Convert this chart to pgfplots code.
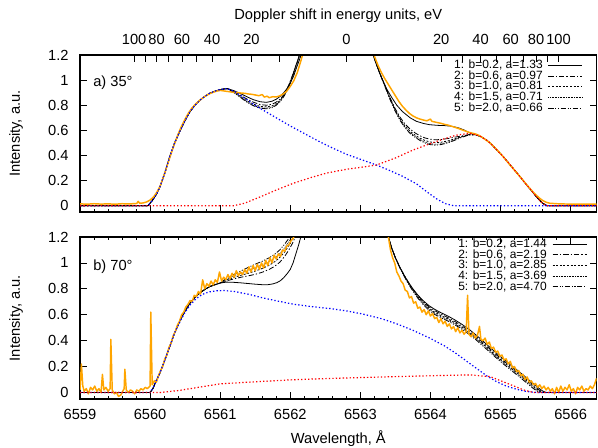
\documentclass[border=0pt]{standalone}
\usepackage{pgfplots}
\pgfplotsset{compat=1.18}
\usepackage{fontspec}
\setmainfont{Liberation Sans}
\definecolor{expo}{RGB}{255,165,0}
\definecolor{mblue}{RGB}{0,0,255}
\definecolor{mred}{RGB}{255,0,0}
\pgfplotsset{
  panel/.style={
    scale only axis, width=387.4pt,
    xmin=6559, xmax=6566.37, ymin=-0.05, ymax=1.2,
    xtick={6559,6560,6561,6562,6563,6564,6565,6566}, minor x tick num=4,
    ytick={0,0.2,0.4,0.6,0.8,1,1.2},
    tick align=inside,
    major tick length=5pt, minor tick length=2.5pt,
    axis line style={line width=1.3pt},
    every tick/.style={black, line width=0.6pt},
    /pgf/number format/1000 sep={},
    /pgf/number format/assume math mode=true,
    scaled x ticks=false,
    tick label style={font=\fontsize{11}{13}\selectfont},
    yticklabel style={xshift=-5pt},
    xticklabel style={yshift=-4.5pt},
    legend style={draw=none, fill=none, font=\fontsize{9}{10}\selectfont,
      inner sep=0pt, column sep=4pt,
      nodes={inner sep=0pt, text height=6.5pt, text depth=1.5pt}},
    legend cell align=right,
    legend plot pos=right,
    legend image code/.code={\draw[##1] (0pt,0pt) -- (25.5pt,0pt);},
  },
  f1/.style={black, line width=0.6pt},
  f2/.style={black, line width=0.6pt, dash pattern=on 4pt off 1.5pt on 1pt off 1.5pt},
  f3/.style={black, line width=0.6pt, dash pattern=on 1.5pt off 1.2pt},
  f4/.style={black, line width=0.5pt, dash pattern=on 0.5pt off 0.7pt},
  f5/.style={black, line width=0.6pt, dash pattern=on 4pt off 1.2pt on 0.8pt off 1.2pt on 0.8pt off 1.2pt},
  ex/.style={expo, line width=1.1pt, line join=round},
  cb/.style={mblue, line width=0.9pt, dash pattern=on 1pt off 1.6pt},
  cr/.style={mred, line width=0.9pt, dash pattern=on 1pt off 1.6pt},
}
\begin{document}
\begin{tikzpicture}
\useasboundingbox (0,0) rectangle (448.5pt,335.25pt);
% ---------------- top panel ----------------
\begin{axis}[panel, at={(60pt,176.25pt)}, height=117.75pt,
  xtick pos=lower, xticklabels={},
  legend style={at={(0.974,0.97)}, anchor=north east}]
\addplot[f1] coordinates {(6559,0) (6559.9,0) (6559.97,0) (6560.03,0.04) (6560.09,0.09) (6560.14,0.15) (6560.21,0.26) (6560.28,0.39) (6560.35,0.50) (6560.43,0.60) (6560.5,0.68) (6560.57,0.75) (6560.64,0.80) (6560.71,0.84) (6560.78,0.87) (6560.85,0.895) (6560.93,0.913) (6561.0,0.925) (6561.1,0.933)
 (6561.2,0.915) (6561.3,0.89) (6561.38,0.868) (6561.47,0.845) (6561.57,0.828) (6561.66,0.823) (6561.74,0.832) (6561.8,0.848) (6561.85,0.868) (6561.9,0.895) (6561.95,0.93) (6562.0,0.975) (6562.05,1.035) (6562.09,1.1) (6562.13,1.16) (6562.17,1.225) (6562.22,1.32) (6562.3,1.5) (6562.45,2.0) (6562.8,3.0) (6563.0,2.2) (6563.1,1.5)
 (6563.17,1.22) (6563.22,1.14) (6563.28,1.05) (6563.33,0.985) (6563.38,0.925) (6563.45,0.86) (6563.52,0.8) (6563.6,0.75) (6563.71,0.7) (6563.8,0.672) (6563.9,0.655) (6563.99,0.645) (6564.1,0.64) (6564.2,0.638) (6564.3,0.633) (6564.4,0.62) (6564.48,0.603) (6564.56,0.58) (6564.65,0.565)
 (6564.72,0.55) (6564.8,0.523) (6564.86,0.495) (6564.92,0.46) (6564.98,0.425) (6565.04,0.39) (6565.1,0.35) (6565.16,0.31) (6565.22,0.27) (6565.28,0.23) (6565.33,0.195) (6565.38,0.16) (6565.43,0.128) (6565.47,0.1) (6565.51,0.073) (6565.55,0.048) (6565.58,0.03) (6565.61,0.017) (6565.64,0.006) (6565.67,0) (6566.37,0)};
\addlegendentry{1: b=0.2, a=1.33}
\addplot[f2] coordinates {(6559,0) (6559.9,0) (6559.97,0) (6560.03,0.04) (6560.09,0.09) (6560.14,0.15) (6560.21,0.26) (6560.28,0.39) (6560.35,0.50) (6560.43,0.60) (6560.5,0.68) (6560.57,0.75) (6560.64,0.80) (6560.71,0.84) (6560.78,0.87) (6560.85,0.895) (6560.93,0.913) (6561.0,0.925) (6561.1,0.933)
 (6561.2,0.91) (6561.3,0.875) (6561.38,0.85) (6561.47,0.825) (6561.57,0.805) (6561.66,0.80) (6561.74,0.808) (6561.8,0.825) (6561.86,0.85) (6561.92,0.895) (6561.97,0.95) (6562.02,1.02) (6562.07,1.1) (6562.12,1.18) (6562.16,1.25) (6562.22,1.36) (6562.3,1.55) (6562.45,2.1) (6562.8,3.1) (6563.0,2.2) (6563.1,1.5)
 (6563.17,1.22) (6563.22,1.14) (6563.28,1.05) (6563.35,0.96) (6563.42,0.865) (6563.49,0.78) (6563.56,0.71) (6563.63,0.655) (6563.71,0.61) (6563.78,0.58) (6563.85,0.557) (6563.92,0.54) (6563.99,0.53) (6564.07,0.525) (6564.15,0.527) (6564.25,0.535) (6564.35,0.546) (6564.45,0.556) (6564.55,0.566) (6564.65,0.565)
 (6564.72,0.55) (6564.8,0.523) (6564.86,0.495) (6564.92,0.46) (6564.98,0.425) (6565.04,0.39) (6565.1,0.35) (6565.16,0.31) (6565.22,0.27) (6565.28,0.23) (6565.33,0.195) (6565.38,0.16) (6565.43,0.128) (6565.47,0.1) (6565.51,0.073) (6565.55,0.048) (6565.58,0.03) (6565.61,0.017) (6565.64,0.006) (6565.67,0) (6566.37,0)};
\addlegendentry{2: b=0.6, a=0.97}
\addplot[f3] coordinates {(6559,0) (6559.9,0) (6559.97,0) (6560.03,0.04) (6560.09,0.09) (6560.14,0.15) (6560.21,0.26) (6560.28,0.39) (6560.35,0.50) (6560.43,0.60) (6560.5,0.68) (6560.57,0.75) (6560.64,0.80) (6560.71,0.84) (6560.78,0.87) (6560.85,0.895) (6560.93,0.913) (6561.0,0.925) (6561.1,0.933)
 (6561.2,0.905) (6561.3,0.865) (6561.38,0.835) (6561.47,0.81) (6561.57,0.79) (6561.66,0.787) (6561.74,0.795) (6561.8,0.813) (6561.86,0.84) (6561.92,0.89) (6561.97,0.945) (6562.02,1.015) (6562.07,1.1) (6562.12,1.18) (6562.16,1.25) (6562.22,1.36) (6562.3,1.55) (6562.45,2.1) (6562.8,3.1) (6563.0,2.2) (6563.1,1.5)
 (6563.17,1.22) (6563.22,1.14) (6563.28,1.05) (6563.35,0.955) (6563.42,0.858) (6563.49,0.772) (6563.56,0.698) (6563.63,0.64) (6563.71,0.593) (6563.78,0.562) (6563.85,0.538) (6563.92,0.52) (6563.99,0.508) (6564.07,0.502) (6564.15,0.505) (6564.25,0.516) (6564.35,0.533) (6564.45,0.551) (6564.55,0.565) (6564.65,0.565)
 (6564.72,0.55) (6564.8,0.523) (6564.86,0.495) (6564.92,0.46) (6564.98,0.425) (6565.04,0.39) (6565.1,0.35) (6565.16,0.31) (6565.22,0.27) (6565.28,0.23) (6565.33,0.195) (6565.38,0.16) (6565.43,0.128) (6565.47,0.1) (6565.51,0.073) (6565.55,0.048) (6565.58,0.03) (6565.61,0.017) (6565.64,0.006) (6565.67,0) (6566.37,0)};
\addlegendentry{3: b=1.0, a=0.81}
\addplot[f4] coordinates {(6559,0) (6559.9,0) (6559.97,0) (6560.03,0.04) (6560.09,0.09) (6560.14,0.15) (6560.21,0.26) (6560.28,0.39) (6560.35,0.50) (6560.43,0.60) (6560.5,0.68) (6560.57,0.75) (6560.64,0.80) (6560.71,0.84) (6560.78,0.87) (6560.85,0.895) (6560.93,0.913) (6561.0,0.925) (6561.1,0.933)
 (6561.2,0.9) (6561.3,0.86) (6561.38,0.828) (6561.47,0.8) (6561.57,0.78) (6561.66,0.777) (6561.74,0.785) (6561.8,0.803) (6561.86,0.835) (6561.92,0.885) (6561.97,0.94) (6562.02,1.01) (6562.07,1.095) (6562.12,1.18) (6562.16,1.25) (6562.22,1.36) (6562.3,1.55) (6562.45,2.1) (6562.8,3.1) (6563.0,2.2) (6563.1,1.5)
 (6563.17,1.22) (6563.22,1.14) (6563.28,1.05) (6563.35,0.955) (6563.42,0.855) (6563.49,0.767) (6563.56,0.692) (6563.63,0.632) (6563.71,0.583) (6563.78,0.552) (6563.85,0.527) (6563.92,0.507) (6563.99,0.494) (6564.07,0.489) (6564.15,0.493) (6564.25,0.506) (6564.35,0.527) (6564.45,0.549) (6564.55,0.565) (6564.65,0.565)
 (6564.72,0.55) (6564.8,0.523) (6564.86,0.495) (6564.92,0.46) (6564.98,0.425) (6565.04,0.39) (6565.1,0.35) (6565.16,0.31) (6565.22,0.27) (6565.28,0.23) (6565.33,0.195) (6565.38,0.16) (6565.43,0.128) (6565.47,0.1) (6565.51,0.073) (6565.55,0.048) (6565.58,0.03) (6565.61,0.017) (6565.64,0.006) (6565.67,0) (6566.37,0)};
\addlegendentry{4: b=1.5, a=0.71}
\addplot[f5] coordinates {(6559,0) (6559.9,0) (6559.97,0) (6560.03,0.04) (6560.09,0.09) (6560.14,0.15) (6560.21,0.26) (6560.28,0.39) (6560.35,0.50) (6560.43,0.60) (6560.5,0.68) (6560.57,0.75) (6560.64,0.80) (6560.71,0.84) (6560.78,0.87) (6560.85,0.895) (6560.93,0.913) (6561.0,0.925) (6561.1,0.933)
 (6561.2,0.9) (6561.3,0.858) (6561.38,0.825) (6561.47,0.797) (6561.57,0.776) (6561.66,0.772) (6561.74,0.78) (6561.8,0.8) (6561.86,0.83) (6561.92,0.88) (6561.97,0.935) (6562.02,1.005) (6562.07,1.09) (6562.12,1.175) (6562.16,1.25) (6562.22,1.36) (6562.3,1.55) (6562.45,2.1) (6562.8,3.1) (6563.0,2.2) (6563.1,1.5)
 (6563.17,1.22) (6563.22,1.14) (6563.28,1.05) (6563.35,0.95) (6563.42,0.85) (6563.49,0.76) (6563.56,0.685) (6563.63,0.625) (6563.71,0.575) (6563.78,0.545) (6563.85,0.52) (6563.92,0.5) (6563.99,0.487) (6564.07,0.482) (6564.15,0.487) (6564.25,0.5) (6564.35,0.522) (6564.45,0.545) (6564.55,0.563) (6564.65,0.565)
 (6564.72,0.55) (6564.8,0.523) (6564.86,0.495) (6564.92,0.46) (6564.98,0.425) (6565.04,0.39) (6565.1,0.35) (6565.16,0.31) (6565.22,0.27) (6565.28,0.23) (6565.33,0.195) (6565.38,0.16) (6565.43,0.128) (6565.47,0.1) (6565.51,0.073) (6565.55,0.048) (6565.58,0.03) (6565.61,0.017) (6565.64,0.006) (6565.67,0) (6566.37,0)};
\addlegendentry{5: b=2.0, a=0.66}
\addplot[ex, forget plot] coordinates {(6559.00,0.015) (6559.10,0.012) (6559.20,0.016) (6559.30,0.013) (6559.40,0.015) (6559.50,0.012) (6559.60,0.016) (6559.70,0.014) (6559.78,0.017) (6559.81,0.018) (6559.83,0.035) (6559.85,0.02) (6559.90,0.022) (6559.95,0.03) (6560.00,0.045) (6560.05,0.07) (6560.10,0.11) (6560.15,0.165) (6560.20,0.245) (6560.25,0.33) (6560.30,0.415) (6560.35,0.495) (6560.40,0.57) (6560.45,0.635) (6560.50,0.69) (6560.55,0.74) (6560.60,0.78) (6560.65,0.81) (6560.70,0.835) (6560.75,0.858) (6560.80,0.877) (6560.85,0.892) (6560.90,0.903) (6560.95,0.912) (6561.00,0.918) (6561.05,0.914) (6561.10,0.91) (6561.15,0.906) (6561.20,0.902) (6561.25,0.90) (6561.30,0.897) (6561.35,0.895) (6561.40,0.89) (6561.45,0.887) (6561.50,0.882) (6561.55,0.876) (6561.60,0.885) (6561.63,0.865) (6561.67,0.872) (6561.70,0.86) (6561.75,0.868) (6561.80,0.866) (6561.85,0.875) (6561.90,0.89) (6561.95,0.912) (6562.00,0.95) (6562.05,0.995) (6562.10,1.06) (6562.15,1.15) (6562.20,1.25) (6562.30,1.5) (6562.50,2.2) (6562.80,3.0) (6563.00,2.3) (6563.10,1.6) (6563.18,1.22) (6563.25,1.12) (6563.30,1.06) (6563.35,1.01) (6563.40,0.965) (6563.45,0.92) (6563.50,0.875) (6563.55,0.83) (6563.60,0.792) (6563.65,0.762) (6563.70,0.735) (6563.75,0.715) (6563.80,0.7) (6563.85,0.69) (6563.90,0.682) (6563.95,0.676) (6564.00,0.69) (6564.02,0.672) (6564.05,0.668) (6564.10,0.662) (6564.15,0.656) (6564.20,0.648) (6564.25,0.642) (6564.30,0.633) (6564.35,0.624) (6564.40,0.615) (6564.45,0.604) (6564.50,0.594) (6564.55,0.584) (6564.60,0.577) (6564.65,0.57) (6564.70,0.558) (6564.75,0.54) (6564.80,0.52) (6564.85,0.5) (6564.90,0.472) (6564.95,0.444) (6565.00,0.414) (6565.05,0.382) (6565.10,0.348) (6565.15,0.315) (6565.20,0.282) (6565.25,0.25) (6565.30,0.217) (6565.35,0.183) (6565.40,0.15) (6565.45,0.118) (6565.50,0.09) (6565.55,0.063) (6565.60,0.042) (6565.65,0.028) (6565.70,0.02) (6565.80,0.016) (6565.90,0.014) (6566.00,0.013) (6566.10,0.012) (6566.20,0.013) (6566.30,0.012) (6566.37,0.012)};
\addplot[cb, forget plot] coordinates {(6559,0) (6559.97,0) (6560.03,0.04) (6560.09,0.09) (6560.14,0.15) (6560.21,0.26) (6560.28,0.39) (6560.35,0.50) (6560.43,0.60) (6560.5,0.68) (6560.57,0.75) (6560.64,0.80) (6560.71,0.84) (6560.78,0.87) (6560.85,0.895) (6560.93,0.913) (6561.0,0.925) (6561.1,0.933) (6561.2,0.91) (6561.3,0.875) (6561.43,0.825) (6561.57,0.775) (6561.8,0.70) (6562.0,0.635) (6562.2,0.575) (6562.4,0.515) (6562.6,0.46) (6562.8,0.41) (6563.0,0.37) (6563.23,0.324) (6563.4,0.285) (6563.6,0.235) (6563.8,0.175) (6563.95,0.11) (6564.1,0.05) (6564.22,0.015) (6564.33,0) (6566.37,0)};
\addplot[cr, forget plot] coordinates {(6559,0) (6561.19,0) (6561.35,0.02) (6561.57,0.07) (6561.8,0.125) (6562.05,0.18) (6562.3,0.225) (6562.52,0.26) (6562.8,0.29) (6563.0,0.305) (6563.23,0.324) (6563.5,0.38) (6563.75,0.443) (6564.0,0.495) (6564.18,0.53) (6564.37,0.562) (6564.56,0.576) (6564.65,0.565) (6564.72,0.55) (6564.8,0.523) (6564.86,0.495) (6564.92,0.46) (6564.98,0.425) (6565.04,0.39) (6565.1,0.35) (6565.16,0.31) (6565.22,0.27) (6565.28,0.23) (6565.33,0.195) (6565.38,0.16) (6565.43,0.128) (6565.47,0.1) (6565.51,0.073) (6565.55,0.048) (6565.58,0.03) (6565.61,0.017) (6565.64,0.006) (6565.67,0) (6566.37,0)};
\end{axis}
% ---------------- Doppler axis ----------------
\begin{axis}[scale only axis, width=387.4pt, height=117.75pt, at={(60pt,176.25pt)},
  xmin=6559, xmax=6566.37, ymin=0, ymax=1,
  axis x line*=top, axis y line=none,
  axis line style={line width=1.3pt},
  tick align=inside, major tick length=5pt,
  every tick/.style={black, line width=0.6pt},
  xtick={6559.772,6559.927,6560.092,6560.267,6560.455,6560.659,6560.885,6561.142,6561.446,6561.843,6562.8,6563.757,6564.154,6564.458,6564.715,6564.941,6565.145,6565.333,6565.508,6565.673,6565.828},
  xticklabels={100,,80,,60,,40,,20,,0,,20,,40,,60,,80,,100},
  xticklabel style={font=\fontsize{11}{13}\selectfont, yshift=4.5pt}]
\addplot[draw=none] coordinates {(6560,0.5)};
\end{axis}
% ---------------- bottom panel ----------------
\begin{axis}[panel, at={(60pt,36pt)}, height=121.5pt,
  legend style={at={(0.982,0.99)}, anchor=north east}]
\addplot[f1] coordinates {(6559,0) (6560.0,0) (6560.04,0.03) (6560.07,0.07) (6560.14,0.15) (6560.21,0.25) (6560.28,0.354) (6560.35,0.46) (6560.43,0.56) (6560.5,0.63) (6560.57,0.69) (6560.64,0.735) (6560.71,0.768) (6560.78,0.795) (6560.85,0.817) (6560.93,0.833) (6561.0,0.845)
 (6561.09,0.852) (6561.2,0.85) (6561.3,0.846) (6561.4,0.841) (6561.5,0.836) (6561.6,0.832) (6561.68,0.832) (6561.75,0.838) (6561.81,0.848) (6561.86,0.863) (6561.91,0.888) (6561.96,0.92) (6562.0,0.95) (6562.04,1.0) (6562.08,1.07) (6562.12,1.14) (6562.16,1.22) (6562.22,1.34) (6562.3,1.55) (6562.5,2.2) (6562.8,3.0) (6563.1,2.2) (6563.3,1.5)
 (6563.4,1.2) (6563.45,1.11) (6563.5,1.04) (6563.56,0.97) (6563.62,0.91) (6563.68,0.855) (6563.75,0.8) (6563.82,0.752) (6563.9,0.707) (6563.98,0.67) (6564.06,0.642) (6564.15,0.616) (6564.25,0.59) (6564.35,0.56) (6564.45,0.526) (6564.56,0.484) (6564.66,0.44) (6564.76,0.392) (6564.86,0.343) (6564.96,0.295) (6565.06,0.25) (6565.16,0.206) (6565.26,0.163) (6565.34,0.127) (6565.42,0.09) (6565.49,0.06) (6565.55,0.032) (6565.6,0.012) (6565.65,0) (6566.37,0)};
\addlegendentry{1: b=0.2, a=1.44}
\addplot[f2] coordinates {(6559,0) (6560.0,0) (6560.04,0.03) (6560.07,0.07) (6560.14,0.15) (6560.21,0.25) (6560.28,0.354) (6560.35,0.46) (6560.43,0.56) (6560.5,0.63) (6560.57,0.69) (6560.64,0.735) (6560.71,0.768) (6560.78,0.795) (6560.85,0.817) (6560.93,0.833) (6561.0,0.845)
 (6561.09,0.862) (6561.2,0.877) (6561.3,0.89) (6561.4,0.9) (6561.5,0.912) (6561.6,0.928) (6561.7,0.95) (6561.78,0.975) (6561.85,1.005) (6561.92,1.05) (6561.98,1.1) (6562.03,1.15) (6562.08,1.21) (6562.14,1.3) (6562.3,1.6) (6562.5,2.2) (6562.8,3.0) (6563.1,2.2) (6563.3,1.5)
 (6563.4,1.2) (6563.45,1.11) (6563.5,1.04) (6563.56,0.97) (6563.62,0.91) (6563.68,0.855) (6563.75,0.797) (6563.82,0.747) (6563.9,0.7) (6563.98,0.661) (6564.06,0.632) (6564.15,0.605) (6564.25,0.578) (6564.35,0.548) (6564.45,0.514) (6564.56,0.472) (6564.66,0.428) (6564.76,0.38) (6564.86,0.331) (6564.96,0.283) (6565.06,0.238) (6565.16,0.194) (6565.26,0.151) (6565.34,0.115) (6565.42,0.078) (6565.49,0.048) (6565.55,0.02) (6565.6,0.004) (6565.65,0) (6566.37,0)};
\addlegendentry{2: b=0.6, a=2.19}
\addplot[f3] coordinates {(6559,0) (6560.0,0) (6560.04,0.03) (6560.07,0.07) (6560.14,0.15) (6560.21,0.25) (6560.28,0.354) (6560.35,0.46) (6560.43,0.56) (6560.5,0.63) (6560.57,0.69) (6560.64,0.735) (6560.71,0.768) (6560.78,0.795) (6560.85,0.817) (6560.93,0.833) (6561.0,0.845)
 (6561.09,0.868) (6561.2,0.888) (6561.3,0.905) (6561.4,0.92) (6561.5,0.937) (6561.6,0.957) (6561.7,0.982) (6561.78,1.01) (6561.85,1.042) (6561.92,1.085) (6561.98,1.135) (6562.03,1.185) (6562.07,1.23) (6562.14,1.32) (6562.3,1.6) (6562.5,2.2) (6562.8,3.0) (6563.1,2.2) (6563.3,1.5)
 (6563.4,1.2) (6563.45,1.11) (6563.5,1.04) (6563.56,0.97) (6563.62,0.908) (6563.68,0.851) (6563.75,0.793) (6563.82,0.74) (6563.9,0.692) (6563.98,0.651) (6564.06,0.62) (6564.15,0.594) (6564.25,0.568) (6564.35,0.538) (6564.45,0.504) (6564.56,0.462) (6564.66,0.418) (6564.76,0.37) (6564.86,0.321) (6564.96,0.273) (6565.06,0.228) (6565.16,0.184) (6565.26,0.141) (6565.34,0.105) (6565.42,0.068) (6565.49,0.038) (6565.55,0.012) (6565.6,0) (6566.37,0)};
\addlegendentry{3: b=1.0, a=2.85}
\addplot[f4] coordinates {(6559,0) (6560.0,0) (6560.04,0.03) (6560.07,0.07) (6560.14,0.15) (6560.21,0.25) (6560.28,0.354) (6560.35,0.46) (6560.43,0.56) (6560.5,0.63) (6560.57,0.69) (6560.64,0.735) (6560.71,0.768) (6560.78,0.795) (6560.85,0.817) (6560.93,0.833) (6561.0,0.845)
 (6561.09,0.875) (6561.2,0.9) (6561.3,0.922) (6561.4,0.943) (6561.5,0.963) (6561.6,0.985) (6561.7,1.01) (6561.78,1.04) (6561.85,1.072) (6561.92,1.115) (6561.98,1.165) (6562.03,1.21) (6562.1,1.3) (6562.3,1.6) (6562.5,2.2) (6562.8,3.0) (6563.1,2.2) (6563.3,1.5)
 (6563.4,1.2) (6563.45,1.11) (6563.5,1.04) (6563.56,0.968) (6563.62,0.905) (6563.68,0.847) (6563.75,0.788) (6563.82,0.734) (6563.9,0.684) (6563.98,0.642) (6564.06,0.611) (6564.15,0.585) (6564.25,0.559) (6564.35,0.53) (6564.45,0.496) (6564.56,0.454) (6564.66,0.41) (6564.76,0.362) (6564.86,0.313) (6564.96,0.265) (6565.06,0.22) (6565.16,0.176) (6565.26,0.133) (6565.34,0.097) (6565.42,0.06) (6565.49,0.03) (6565.55,0.006) (6565.6,0) (6566.37,0)};
\addlegendentry{4: b=1.5, a=3.69}
\addplot[f5] coordinates {(6559,0) (6560.0,0) (6560.04,0.03) (6560.07,0.07) (6560.14,0.15) (6560.21,0.25) (6560.28,0.354) (6560.35,0.46) (6560.43,0.56) (6560.5,0.63) (6560.57,0.69) (6560.64,0.735) (6560.71,0.768) (6560.78,0.795) (6560.85,0.817) (6560.93,0.833) (6561.0,0.845)
 (6561.09,0.882) (6561.2,0.912) (6561.3,0.94) (6561.4,0.965) (6561.5,0.99) (6561.6,1.013) (6561.7,1.04) (6561.78,1.068) (6561.85,1.1) (6561.92,1.145) (6561.98,1.19) (6562.03,1.235) (6562.1,1.32) (6562.3,1.6) (6562.5,2.2) (6562.8,3.0) (6563.1,2.2) (6563.3,1.5)
 (6563.4,1.2) (6563.45,1.11) (6563.5,1.038) (6563.56,0.966) (6563.62,0.902) (6563.68,0.843) (6563.75,0.783) (6563.82,0.728) (6563.9,0.677) (6563.98,0.634) (6564.06,0.603) (6564.15,0.577) (6564.25,0.551) (6564.35,0.522) (6564.45,0.488) (6564.56,0.446) (6564.66,0.402) (6564.76,0.354) (6564.86,0.305) (6564.96,0.257) (6565.06,0.212) (6565.16,0.168) (6565.26,0.125) (6565.34,0.089) (6565.42,0.052) (6565.49,0.022) (6565.55,0.002) (6565.6,0) (6566.37,0)};
\addlegendentry{5: b=2.0, a=4.70}
\addplot[ex, forget plot] coordinates {(6559.00,0.02) (6559.02,0.22) (6559.04,0.05) (6559.06,0.01) (6559.09,0.03) (6559.12,-0.01) (6559.15,0.04) (6559.18,0.02) (6559.21,0.05) (6559.24,0.01) (6559.27,0.03) (6559.30,0.00) (6559.32,0.14) (6559.34,0.02) (6559.37,0.04) (6559.40,0.01) (6559.43,0.03) (6559.44,0.41) (6559.46,0.02) (6559.49,-0.01) (6559.52,0.00) (6559.55,-0.03) (6559.58,-0.02) (6559.61,0.01) (6559.63,0.03) (6559.64,0.18) (6559.66,0.02) (6559.69,0.00) (6559.72,0.02) (6559.75,0.01) (6559.78,-0.01) (6559.81,0.02) (6559.84,0.01) (6559.87,0.03) (6559.90,0.02) (6559.93,0.04) (6559.96,0.03) (6560.00,0.05) (6560.01,0.62) (6560.03,0.06) (6560.06,0.09) (6560.09,0.08) (6560.12,0.13) (6560.15,0.17) (6560.18,0.20) (6560.21,0.26) (6560.24,0.29) (6560.27,0.35) (6560.30,0.38) (6560.33,0.44) (6560.36,0.47) (6560.39,0.52) (6560.42,0.55) (6560.45,0.60) (6560.48,0.62) (6560.51,0.66) (6560.54,0.68) (6560.57,0.71) (6560.60,0.70) (6560.63,0.75) (6560.66,0.74) (6560.69,0.78) (6560.72,0.76) (6560.75,0.87) (6560.78,0.80) (6560.81,0.84) (6560.84,0.82) (6560.87,0.86) (6560.90,0.83) (6560.93,0.87) (6560.96,0.85) (6560.99,0.93) (6561.02,0.86) (6561.05,0.89) (6561.08,0.87) (6561.11,0.91) (6561.14,0.88) (6561.17,0.92) (6561.20,0.89) (6561.23,0.94) (6561.26,0.90) (6561.29,0.93) (6561.32,0.91) (6561.35,0.95) (6561.38,0.92) (6561.41,0.97) (6561.44,0.93) (6561.47,0.98) (6561.50,0.94) (6561.53,0.99) (6561.56,0.95) (6561.59,1.00) (6561.62,0.96) (6561.65,1.02) (6561.68,0.98) (6561.71,1.04) (6561.74,1.00) (6561.77,1.06) (6561.80,1.03) (6561.83,1.07) (6561.86,1.05) (6561.89,1.10) (6561.92,1.09) (6561.95,1.13) (6561.98,1.14) (6562.01,1.17) (6562.04,1.19) (6562.07,1.22) (6562.10,1.26) (6562.30,1.6) (6562.80,2.5) (6563.20,1.8) (6563.35,1.3) (6563.40,1.20) (6563.43,1.10) (6563.46,1.04) (6563.49,1.00) (6563.52,0.93) (6563.55,0.90) (6563.58,0.86) (6563.61,0.84) (6563.64,0.79) (6563.67,0.78) (6563.70,0.73) (6563.73,0.74) (6563.76,0.69) (6563.79,0.70) (6563.82,0.65) (6563.85,0.66) (6563.88,0.62) (6563.91,0.64) (6563.94,0.60) (6563.97,0.63) (6564.00,0.59) (6564.03,0.61) (6564.06,0.57) (6564.09,0.58) (6564.12,0.54) (6564.15,0.57) (6564.18,0.53) (6564.21,0.55) (6564.24,0.51) (6564.27,0.53) (6564.30,0.49) (6564.33,0.51) (6564.36,0.47) (6564.39,0.50) (6564.42,0.46) (6564.45,0.48) (6564.48,0.45) (6564.51,0.47) (6564.53,0.75) (6564.55,0.45) (6564.58,0.43) (6564.61,0.46) (6564.64,0.42) (6564.67,0.44) (6564.70,0.51) (6564.72,0.41) (6564.75,0.40) (6564.78,0.42) (6564.81,0.37) (6564.84,0.39) (6564.87,0.34) (6564.90,0.35) (6564.93,0.31) (6564.96,0.32) (6564.99,0.28) (6565.02,0.29) (6565.05,0.25) (6565.08,0.26) (6565.11,0.22) (6565.14,0.24) (6565.17,0.19) (6565.20,0.20) (6565.23,0.16) (6565.26,0.17) (6565.29,0.13) (6565.32,0.14) (6565.35,0.10) (6565.38,0.12) (6565.41,0.08) (6565.44,0.09) (6565.47,0.06) (6565.50,0.07) (6565.53,0.04) (6565.56,0.06) (6565.59,0.03) (6565.62,0.05) (6565.65,0.02) (6565.68,0.04) (6565.71,0.01) (6565.74,0.03) (6565.77,-0.01) (6565.80,0.04) (6565.83,0.00) (6565.86,0.05) (6565.89,0.01) (6565.92,0.04) (6565.95,0.02) (6565.98,0.06) (6566.01,0.01) (6566.04,0.03) (6566.07,-0.01) (6566.10,0.04) (6566.13,0.02) (6566.16,0.05) (6566.19,0.01) (6566.22,0.03) (6566.25,0.02) (6566.28,0.05) (6566.31,0.03) (6566.34,0.06) (6566.37,0.11)};
\addplot[cb, forget plot] coordinates {(6559,0) (6560.0,0) (6560.04,0.03) (6560.07,0.07) (6560.14,0.15) (6560.21,0.25) (6560.28,0.354) (6560.35,0.46) (6560.43,0.55) (6560.5,0.62) (6560.57,0.675) (6560.64,0.715) (6560.71,0.745) (6560.78,0.765) (6560.85,0.777) (6560.95,0.785) (6561.05,0.787) (6561.2,0.78) (6561.43,0.755) (6561.57,0.735) (6561.8,0.708) (6562.04,0.682) (6562.3,0.663) (6562.57,0.648) (6562.8,0.63) (6563.04,0.605) (6563.3,0.57) (6563.52,0.53) (6563.75,0.48) (6563.99,0.42) (6564.2,0.36) (6564.37,0.3) (6564.52,0.24) (6564.66,0.185) (6564.8,0.13) (6564.94,0.085) (6565.08,0.05) (6565.23,0.025) (6565.35,0.01) (6565.47,0.002) (6565.55,0) (6566.37,0)};
\addplot[cr, forget plot] coordinates {(6559,0) (6560.14,0) (6560.4,0.015) (6560.62,0.034) (6561.0,0.067) (6561.57,0.085) (6562.1,0.1) (6562.71,0.111) (6563.52,0.123) (6564.2,0.132) (6564.56,0.136) (6564.85,0.123) (6565.09,0.072) (6565.33,0.02) (6565.47,0) (6566.37,0)};
\end{axis}
% ---------------- labels ----------------
\node[font=\fontsize{11}{13}\selectfont, anchor=base, inner sep=0pt] at (253.7pt,320.25pt) {Doppler shift in energy units, eV};
\node[font=\fontsize{11}{13}\selectfont, anchor=base, inner sep=0pt] at (253.7pt,2.5pt) {Wavelength, Å};
\node[font=\fontsize{11}{13}\selectfont, rotate=90, inner sep=0pt] at (12pt,235.1pt) {Intensity, a.u.};
\node[font=\fontsize{11}{13}\selectfont, rotate=90, inner sep=0pt] at (12pt,96.75pt) {Intensity, a.u.};
\node[font=\fontsize{11}{13}\selectfont, anchor=base west, inner sep=0pt] at (69.75pt,270pt) {a) 35°};
\node[font=\fontsize{11}{13}\selectfont, anchor=base west, inner sep=0pt] at (69.75pt,132.75pt) {b) 70°};
\end{tikzpicture}
\end{document}
